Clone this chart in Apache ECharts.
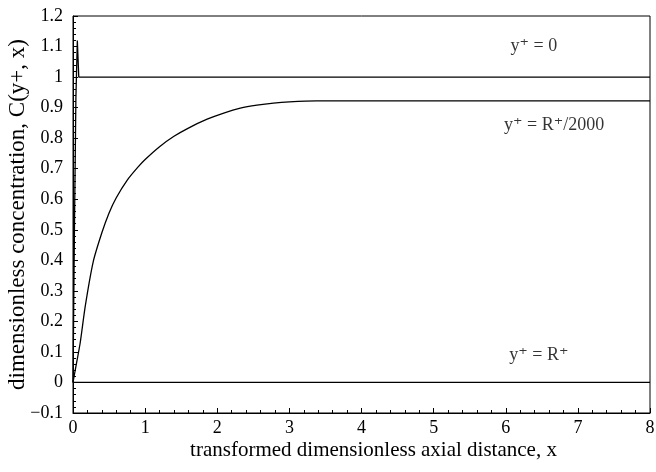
<!DOCTYPE html>
<html>
<head>
<meta charset="utf-8">
<script src="https://cdn.jsdelivr.net/npm/echarts@6/dist/echarts.min.js"></script>
<style>
  html, body { margin: 0; padding: 0; background: #fff; }
  #chart { width: 656px; height: 472px; }
</style>
</head>
<body>
<div id="chart"></div>
<script>
// y+ = 0 (wall)
const xWall = [0, 0.02, 0.04, 0.06, 0.08, 8]
const cWall = [0, 0.5, 0.93, 1.12, 1.0, 1.0]

// y+ = R+/2000
const xNear = [0, 0.05, 0.1, 0.17, 0.28, 0.4, 0.5, 0.6, 0.75, 0.9, 1.0, 1.2, 1.4, 1.6, 1.86, 2.1, 2.32, 2.55, 2.78, 3.0, 3.38, 4, 8]
const cNear = [0, 0.065, 0.13, 0.25, 0.395, 0.49, 0.555, 0.605, 0.662, 0.705, 0.73, 0.772, 0.806, 0.833, 0.862, 0.883, 0.898, 0.908, 0.915, 0.919, 0.922, 0.922, 0.922]

// y+ = R+ (centre)
const xCentre = [0, 8]
const cCentre = [0, 0]

// curve labels, placed in data coordinates
const labelNames = ['y⁺ = 0', 'y⁺ = R⁺/2000', 'y⁺ = R⁺']
const labelX = [6.39, 6.67, 6.46]
const labelY = [1.10, 0.843, 0.089]

const serif = '"Liberation Serif", "DejaVu Serif", serif'
const zip = (xs, ys) => xs.map((x, i) => [x, ys[i]])

const lineStyle = { color: '#000', width: 1.3 }

const chart = echarts.init(document.getElementById('chart'))
chart.setOption({
  animation: false,
  grid: {
    left: 73, right: 6, top: 16, bottom: 59,
    outerBoundsMode: 'none',
    show: true, borderColor: '#000', borderWidth: 1
  },
  xAxis: {
    type: 'value',
    min: 0, max: 8, interval: 1,
    name: 'transformed dimensionless axial distance, x',
    nameLocation: 'middle',
    nameGap: 27,
    nameMoveOverlap: false,
    nameTextStyle: { fontFamily: serif, fontSize: 21, color: '#000', padding: [0, 0, 0, 24] },
    axisLine: { onZero: false, lineStyle: { color: '#000', width: 1 } },
    axisTick: { inside: true, length: 5, lineStyle: { color: '#000' } },
    minorTick: { show: true, splitNumber: 5, length: 3, lineStyle: { color: '#000' } },
    splitLine: { show: false },
    axisLabel: { fontFamily: serif, fontSize: 18, color: '#000', margin: 6 }
  },
  yAxis: {
    type: 'value',
    min: -0.1, max: 1.2, interval: 0.1,
    name: 'dimensionless concentration, C(y+, x)',
    nameLocation: 'middle',
    nameGap: 44,
    nameMoveOverlap: false,
    nameTextStyle: { fontFamily: serif, fontSize: 23, color: '#000' },
    axisLine: { onZero: false, lineStyle: { color: '#000', width: 1 } },
    axisTick: { inside: true, length: 5, lineStyle: { color: '#000' } },
    minorTick: { show: true, splitNumber: 5, length: 3, lineStyle: { color: '#000' } },
    splitLine: { show: false },
    axisLabel: {
      fontFamily: serif, fontSize: 18, color: '#000', margin: 10,
      formatter: v => {
        const r = Math.round(v * 10) / 10
        return r < 0 ? '\u2212' + String(-r) : String(r)
      }
    }
  },
  series: [
    { name: 'y+ = 0', type: 'line', data: zip(xWall, cWall), showSymbol: false, lineStyle },
    { name: 'y+ = R+/2000', type: 'line', data: zip(xNear, cNear), smooth: 0.25, showSymbol: false, lineStyle },
    { name: 'y+ = R+', type: 'line', data: zip(xCentre, cCentre), showSymbol: false, lineStyle },
    {
      type: 'scatter',
      symbolSize: 0,
      silent: true,
      data: labelNames.map((n, i) => ({ name: n, value: [labelX[i], labelY[i]] })),
      label: {
        show: true,
        position: 'inside',
        formatter: p => p.name,
        fontFamily: serif, fontSize: 18, color: '#000'
      }
    }
  ]
})
</script>
</body>
</html>
